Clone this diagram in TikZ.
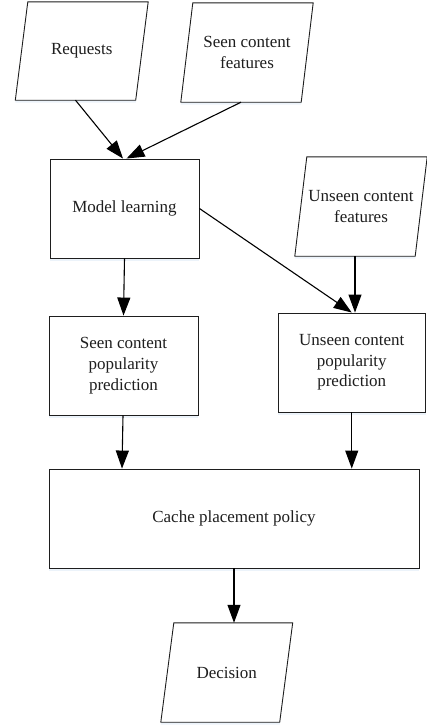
\documentclass[tikz,border=0pt]{standalone}
\usepackage{fontspec}
\setmainfont{Liberation Serif}
\usetikzlibrary{arrows.meta,shadows,backgrounds}
\definecolor{shadowc}{RGB}{236,243,250}
\definecolor{inkc}{RGB}{30,30,30}
\tikzset{
  txt/.style={inner sep=0pt, align=center, text=inkc,
    font=\fontsize{17}{20.7}\selectfont},
  procbox/.style={txt, draw=inkc, line width=0.9pt, fill=white,
    drop shadow={shadow xshift=0pt, shadow yshift=-2.5pt, fill=shadowc, opacity=1}},
  iobox/.style={txt},
  ioline/.style={draw=inkc, line width=0.9pt, fill=white},
  ioshadow/.style={fill=shadowc},
  flow/.style={draw=black, line width=1.1pt, -{Triangle[length=18pt,width=13pt]}}
}
\newcommand\ioframe[2]{%
  \fill[ioshadow] ([xshift=#2,yshift=-2.5pt]#1.north west) -- ([xshift=#2,yshift=-2.5pt]#1.north east)
     -- ([xshift=-#2,yshift=-2.5pt]#1.south east) -- ([xshift=-#2,yshift=-2.5pt]#1.south west) -- cycle;
  \path[ioline] ([xshift=#2]#1.north west) -- ([xshift=#2]#1.north east)
     -- ([xshift=-#2]#1.south east) -- ([xshift=-#2]#1.south west) -- cycle;}
\begin{document}
\begin{tikzpicture}[x=1pt,y=-1pt]
\useasboundingbox (0,0) rectangle (426,728);
% input / output parallelograms (text nodes)
\node[iobox, minimum width=120pt, minimum height=98pt] (req) at (81.75,51) {Requests};
\node[iobox, minimum width=120pt, minimum height=99pt] (seenf) at (247,52.5) {Seen content\\features};
\node[iobox, minimum width=120pt, minimum height=99pt] (unseenf) at (361,206.5) {Unseen content\\features};
\node[iobox, minimum width=118.5pt, minimum height=99pt] (dec) at (226.75,672.5) {Decision};
% process boxes
\node[procbox, minimum width=149pt, minimum height=99pt] (model) at (124.5,208.5) {Model learning};
\node[procbox, minimum width=149pt, minimum height=99pt] (seenp) at (123.5,365.5) {Seen content\\popularity\\prediction};
\node[procbox, minimum width=147.5pt, minimum height=99pt] (unseenp) at (351.75,362.5) {Unseen content\\popularity\\prediction};
\node[procbox, minimum width=370pt, minimum height=99pt] (cache) at (234,518.5) {Cache placement policy};
\begin{scope}[on background layer]
  \ioframe{req}{6.25pt}
  \ioframe{seenf}{6pt}
  \ioframe{unseenf}{6pt}
  \ioframe{dec}{6.5pt}
\end{scope}
% connectors
\draw[flow] ([xshift=-6.25pt]req.south) -- ([xshift=-1.5pt]model.north);
\draw[flow] ([xshift=-6pt]seenf.south) -- ([xshift=2pt]model.north);
\draw[flow] (model.east) -- (unseenp.north);
\draw[flow] ([xshift=-6pt]unseenf.south) -- ([xshift=-6pt]unseenf.south |- unseenp.north);
\draw[flow] (model.south) -- (seenp.north);
\draw[flow] ([xshift=-0.5pt]seenp.south) -- ([xshift=-1.5pt]seenp.south |- cache.north);
\draw[flow] (unseenp.south) -- (unseenp.south |- cache.north);
\draw[flow] (cache.south) -- (cache.south |- dec.north);
\end{tikzpicture}
\end{document}
